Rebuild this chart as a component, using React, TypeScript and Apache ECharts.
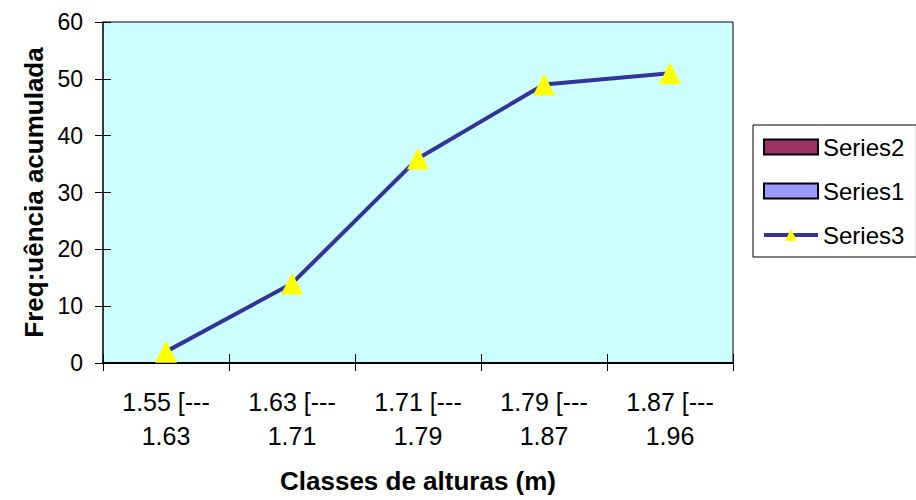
import React, { useEffect, useRef } from "react";
import * as echarts from "echarts";

// Height classes (m) and cumulative frequencies
const classLabels = [
  "1.55 [---\n1.63",
  "1.63 [---\n1.71",
  "1.71 [---\n1.79",
  "1.79 [---\n1.87",
  "1.87 [---\n1.96",
];
const series3Values = [2, 14, 36, 49, 51];
const series1Values: number[] = [];
const series2Values: number[] = [];
const yTicks = { min: 0, max: 60, interval: 10 };

const FONT = "'Liberation Sans', Arial, sans-serif";

export default function App() {
  const ref = useRef<HTMLDivElement>(null);

  useEffect(() => {
    if (!ref.current) return;
    const chart = echarts.init(ref.current, undefined, { renderer: "svg" });
    chart.setOption({
      animation: false,
      backgroundColor: "#ffffff",
      textStyle: { fontFamily: FONT },
      grid: {
        left: 103,
        top: 22,
        width: 630,
        height: 341,
        show: true,
        backgroundColor: "#CCFFFF",
        borderColor: "#000000",
        borderWidth: 1,
      },
      legend: {
        orient: "vertical",
        left: 753,
        top: 125,
        padding: [10, 12, 10, 9],
        itemWidth: 54,
        itemHeight: 15,
        itemGap: 20,
        backgroundColor: "#ffffff",
        borderColor: "#000000",
        borderWidth: 1,
        borderRadius: 0,
        textStyle: { fontFamily: FONT, fontSize: 24, color: "#000000", lineHeight: 24 },
        data: [
          { name: "Series2", icon: "rect" },
          { name: "Series1", icon: "rect" },
          { name: "Series3", lineStyle: { width: 4, color: "#333399" } },
        ],
      },
      xAxis: [
        {
          type: "category",
          data: classLabels,
          boundaryGap: true,
          position: "bottom",
          axisLine: { show: true, lineStyle: { color: "#000000", width: 2 } },
          axisTick: { show: true, inside: false, length: 8, lineStyle: { color: "#000000" } },
          axisLabel: {
            fontFamily: FONT,
            fontSize: 25,
            color: "#000000",
            margin: 22,
            lineHeight: 34,
            interval: 0,
          },
          name: "Classes de alturas (m)",
          nameLocation: "middle",
          nameGap: 105,
          nameTextStyle: { fontFamily: FONT, fontSize: 26, fontWeight: "bold", color: "#000000" },
          splitLine: { show: false },
        },
        {
          type: "category",
          data: classLabels,
          boundaryGap: true,
          position: "bottom",
          offset: 0,
          axisLine: { show: false },
          axisTick: { show: true, inside: true, length: 9, lineStyle: { color: "#000000" } },
          axisLabel: { show: false },
          splitLine: { show: false },
        },
      ],
      yAxis: [
        {
          type: "value",
          min: yTicks.min,
          max: yTicks.max,
          interval: yTicks.interval,
          position: "left",
          axisLine: { show: true, lineStyle: { color: "#222222", width: 1.5 } },
          axisTick: { show: true, inside: false, length: 8, lineStyle: { color: "#000000" } },
          axisLabel: { fontFamily: FONT, fontSize: 23, color: "#000000", margin: 20 },
          splitLine: { show: false },
          name: "Freq:uência acumulada",
          nameLocation: "middle",
          nameGap: 54,
          nameTextStyle: { fontFamily: FONT, fontSize: 26, fontWeight: "bold", color: "#000000" },
        },
        {
          type: "value",
          min: yTicks.min,
          max: yTicks.max,
          interval: yTicks.interval,
          position: "left",
          offset: 0,
          axisLine: { show: false },
          axisTick: { show: true, inside: true, length: 8, lineStyle: { color: "#000000" } },
          axisLabel: { show: false },
          splitLine: { show: false },
        },
      ],
      series: [
        {
          name: "Series2",
          type: "bar",
          data: series2Values,
          itemStyle: { color: "#993366", borderColor: "#000000", borderWidth: 1.5 },
        },
        {
          name: "Series1",
          type: "bar",
          data: series1Values,
          itemStyle: { color: "#9999FF", borderColor: "#000000", borderWidth: 1.5 },
        },
        {
          name: "Series3",
          type: "line",
          data: series3Values,
          symbol: "triangle",
          symbolSize: 22,
          lineStyle: { color: "#333399", width: 4 },
          itemStyle: { color: "#FFFF00", borderWidth: 0 },
          z: 5,
        },
      ],
    });
    return () => chart.dispose();
  }, []);

  return (
    <div
      ref={ref}
      style={{ position: "fixed", left: 0, top: 0, width: 916, height: 500, background: "#fff" }}
    />
  );
}
